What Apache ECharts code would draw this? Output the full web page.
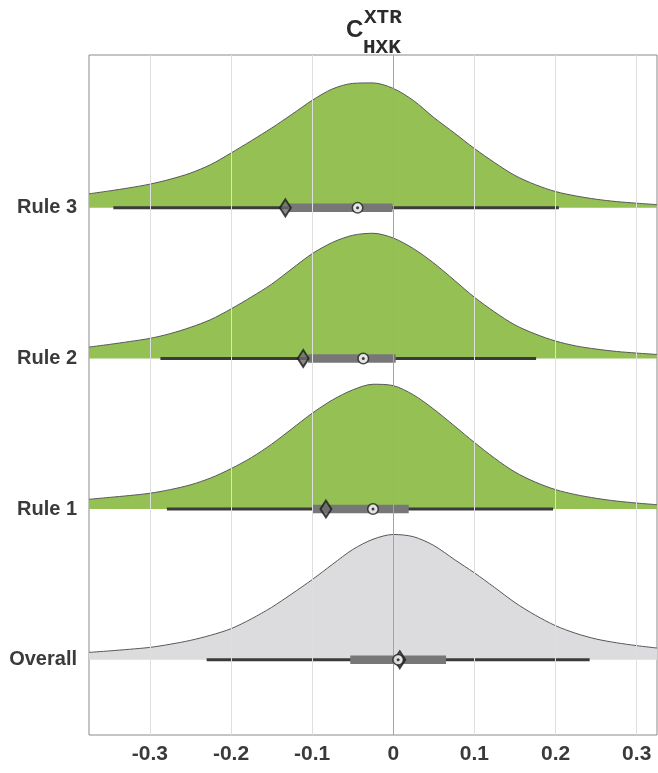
<!DOCTYPE html>
<html><head><meta charset="utf-8">
<script src="https://cdn.jsdelivr.net/npm/echarts@6/dist/echarts.min.js"></script>
<style>html,body{margin:0;padding:0;background:#fff}#c{width:658px;height:773px}</style>
</head><body><div id="c"></div>
<script>
// ---- data ----
const groups = ['Overall', 'Rule 1', 'Rule 2', 'Rule 3'];
const xTicks = [-0.3, -0.2, -0.1, 0, 0.1, 0.2, 0.3];
const xGrid = [-0.375,-0.35,-0.325,-0.3,-0.275,-0.25,-0.225,-0.2,-0.175,-0.15,-0.125,-0.1,-0.075,-0.05,-0.025,0,
  0.025,0.05,0.075,0.1,0.125,0.15,0.175,0.2,0.225,0.25,0.275,0.3,0.325];
// relative density (peak = 1)
const densOverall = [0.058,0.070,0.083,0.098,0.123,0.154,0.195,0.247,0.325,0.417,0.525,0.638,0.760,0.878,0.960,0.998,
  0.980,0.910,0.800,0.692,0.575,0.455,0.355,0.271,0.210,0.165,0.135,0.112,0.093];
const densRule1 = [0.078,0.093,0.108,0.126,0.155,0.193,0.248,0.322,0.410,0.517,0.640,0.764,0.870,0.950,0.995,0.984,
  0.910,0.796,0.665,0.531,0.405,0.295,0.215,0.155,0.115,0.086,0.064,0.048,0.035];
const densRule2 = [0.091,0.112,0.135,0.160,0.198,0.248,0.310,0.395,0.490,0.592,0.715,0.835,0.925,0.982,0.998,0.960,
  0.875,0.760,0.625,0.488,0.370,0.267,0.195,0.139,0.100,0.075,0.056,0.043,0.032];
const densRule3 = [0.112,0.135,0.160,0.189,0.228,0.277,0.345,0.437,0.535,0.636,0.745,0.857,0.948,0.992,0.996,0.952,
  0.855,0.720,0.598,0.473,0.360,0.258,0.185,0.130,0.095,0.069,0.050,0.037,0.026];
const whiskerLo = [-0.230, -0.279, -0.287, -0.345];
const whiskerHi = [0.242, 0.197, 0.176, 0.204];
const boxQ1 = [-0.053, -0.100, -0.105, -0.129];
const boxQ3 = [0.065, 0.019, 0.003, -0.001];
const medians = [0.006, -0.025, -0.037, -0.044];
const means = [0.008, -0.083, -0.111, -0.133];

// ---- styling ----
const dens = [densOverall, densRule1, densRule2, densRule3];
const fills = ['#dcdcde', '#94c054', '#94c054', '#94c054'];
const RIDGE = 0.833;
const FONT = 'Liberation Sans';
const txt = '#3a3a3a';

const series = [];
groups.forEach((g, i) => {
  series.push({
    type: 'line', name: g + ' density', z: 2, smooth: 0.3, symbol: 'none', silent: true,
    data: xGrid.map((x, j) => [x, i + dens[i][j] * RIDGE]),
    lineStyle: { color: '#585858', width: 1 },
    areaStyle: { color: fills[i], opacity: 1, origin: i }
  });
});
groups.forEach((g, i) => {
  series.push({
    type: 'line', z: 3, symbol: 'none', silent: true,
    data: [[whiskerLo[i], i], [whiskerHi[i], i]],
    lineStyle: { color: '#3b3b3b', width: 3, cap: 'butt' }
  });
  series.push({
    type: 'line', z: 4, symbol: 'none', silent: true,
    data: [[boxQ1[i], i], [boxQ3[i], i]],
    lineStyle: { color: '#777777', width: 8.5, cap: 'butt' }
  });
});
// gridlines on top of the fills
series.push({
  type: 'line', z: 5, data: [], silent: true,
  markLine: {
    silent: true, symbol: 'none', label: { show: false }, animation: false,
    lineStyle: { color: '#dedede', width: 1, type: 'solid' },
    data: xTicks.filter(v => v !== 0).map(v => ({ xAxis: v }))
  }
});
series.push({
  type: 'line', z: 5, data: [], silent: true,
  markLine: {
    silent: true, symbol: 'none', label: { show: false }, animation: false,
    lineStyle: { color: '#a4a4a4', width: 1, type: 'solid' },
    data: [{ xAxis: 0 }]
  }
});
series.push({
  type: 'scatter', z: 10, symbol: 'diamond', symbolSize: [11, 17], silent: true,
  data: means.map((m, i) => [m, i]),
  itemStyle: { color: '#6c6c6c', borderColor: '#1c1c1c', borderWidth: 2 }
});
series.push({
  type: 'scatter', z: 11, symbol: 'circle', symbolSize: 10.5, silent: true,
  data: medians.map((m, i) => [m, i]),
  itemStyle: { color: '#ffffff', borderColor: '#1c1c1c', borderWidth: 1.5 }
});
series.push({
  type: 'scatter', z: 12, symbol: 'circle', symbolSize: 3, silent: true,
  data: medians.map((m, i) => [m, i]),
  itemStyle: { color: '#111111' }
});

const chart = echarts.init(document.getElementById('c'), null, { renderer: 'canvas' });
chart.setOption({
  animation: false,
  backgroundColor: '#ffffff',
  grid: { left: 89, right: 1, top: 55, bottom: 38, show: true, borderColor: '#8a8a8a', borderWidth: 1, backgroundColor: 'transparent' },
  xAxis: {
    type: 'value', min: -0.375, max: 0.325,
    axisLine: { show: false },
    splitLine: { show: false },
    axisTick: { show: true, inside: true, length: 6, lineStyle: { color: '#8a8a8a' }, customValues: xTicks },
    axisLabel: {
      customValues: xTicks, margin: 9,
      formatter: v => (Math.abs(v) < 1e-9 ? '0' : (+v).toFixed(1)),
      fontSize: 21, fontWeight: 'bold', color: txt, fontFamily: FONT
    }
  },
  yAxis: {
    type: 'value', min: -0.5, max: 4.015,
    axisLine: { show: false }, splitLine: { show: false }, axisTick: { show: false },
    axisLabel: {
      customValues: [0, 1, 2, 3], margin: 12, padding: [0, 0, 10, 0],
      formatter: v => groups[Math.round(v)] || '',
      fontSize: 20, fontWeight: 'bold', color: txt, fontFamily: FONT
    }
  },
  graphic: [
    { type: 'text', x: 346, y: 30, style: { text: 'C', font: 'bold 24px "Liberation Sans"', fill: '#2b2b2b', align: 'left', verticalAlign: 'middle' } },
    { type: 'text', x: 364, y: 18, style: { text: 'XTR', font: 'bold 21px "Liberation Mono"', fill: '#2b2b2b', align: 'left', verticalAlign: 'middle' } },
    { type: 'text', x: 363, y: 48, style: { text: 'HXK', font: 'bold 21px "Liberation Mono"', fill: '#2b2b2b', align: 'left', verticalAlign: 'middle' } }
  ],
  series: series
});
</script></body></html>
